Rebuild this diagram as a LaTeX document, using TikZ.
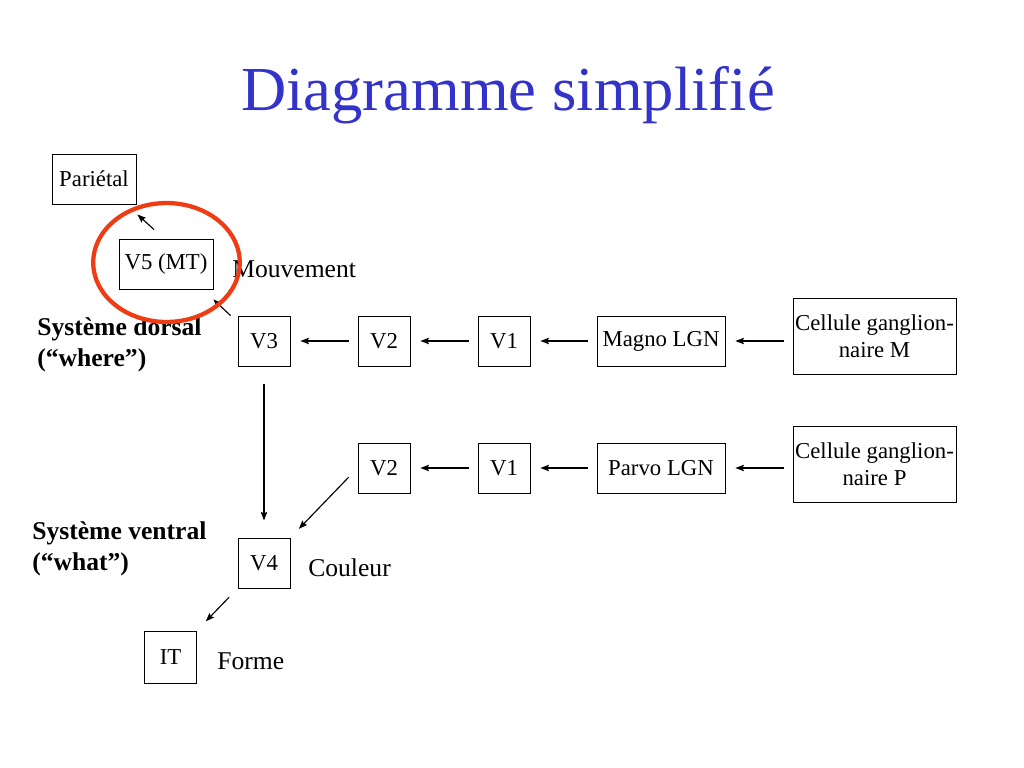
\documentclass[tikz,border=0pt]{standalone}
\usepackage{fontspec}
\setmainfont{Liberation Serif}
\usetikzlibrary{arrows.meta}
\definecolor{titleblue}{RGB}{51,51,204}
\definecolor{markred}{RGB}{238,60,20}
\begin{document}
\begin{tikzpicture}[
			x=0.703pt, y=-0.703pt,
			area/.style={rectangle,draw,line width=0.6pt,inner sep=0pt,
				font=\fontsize{16}{19.2}\selectfont,minimum width=36.6pt,minimum height=35.2pt},
			wide/.style={area,minimum width=90pt},
			cellbox/.style={area,align=center,minimum width=114.6pt,minimum height=54pt},
			note/.style={anchor=west,inner sep=0pt,font=\fontsize{18}{21.6}\selectfont},
			system/.style={note,align=left,font=\fontsize{18}{21.6}\selectfont\bfseries},
			path/.style={-{Stealth[length=6pt,width=4.5pt,inset=1pt]},line width=0.8pt},
			hpath/.style={path,shorten <=6.3pt,shorten >=7pt}
		]
		\path[fill=white,use as bounding box] (0,0) rectangle (1024,768);
		% title
		\node[anchor=base,text=titleblue,font=\fontsize{44}{52}\selectfont] (title) at (508,110) {Diagramme simplifié};
		% dorsal pathway
		\node[area,minimum width=59pt] (par) at (94,179) {Pariétal};
		\node[area,minimum width=66pt] (v5) at (166,264) {V5 (MT)};
		\node[area] (v3) at (264,341) {V3};
		\node[area] (v2m) at (384,341) {V2};
		\node[area] (v1m) at (504,341) {V1};
		\node[wide] (magno) at (661,341) {Magno LGN};
		\node[cellbox] (cellm) at (874.5,336.5) {Cellule ganglion-\\naire M};
		% ventral pathway
		\node[area] (v2p) at (384,468) {V2};
		\node[area] (v1p) at (504,468) {V1};
		\node[wide] (parvo) at (661,468) {Parvo LGN};
		\node[cellbox] (cellp) at (874.5,464.5) {Cellule ganglion-\\naire P};
		\node[area] (v4) at (264,563) {V4};
		\node[area,minimum height=36.6pt] (it) at (170.5,657) {IT};
		% labels
		\node[note] (mouv) at (232,269) {Mouvement};
		\node[note] (coul) at (308,568) {Couleur};
		\node[note] (forme) at (217,661) {Forme};
		\node[system] (dorsal) at (37,345) {Système dorsal\\(“where”)};
		\node[system] (ventral) at (32,549) {Système ventral\\(“what”)};
		% connections
		\draw[hpath] (cellm.west |- magno.east) -- (magno.east);
		\draw[hpath] (magno.west) -- (v1m.east);
		\draw[hpath] (v1m.west) -- (v2m.east);
		\draw[hpath] (v2m.west) -- (v3.east);
		\draw[hpath] (cellp.west |- parvo.east) -- (parvo.east);
		\draw[hpath] (parvo.west) -- (v1p.east);
		\draw[hpath] (v1p.west) -- (v2p.east);
		\draw[path,shorten <=12pt,shorten >=12pt] (v3.south) -- (v4.north);
		\draw[path,shorten <=9pt,shorten >=8.5pt] (v2p.west) -- (v4.north east);
		\draw[path,shorten <=8.5pt,shorten >=9pt] (v4.south west) -- (it.north east);
		\draw[path] ([shift={(-7,0)}]v3.north west) -- ([shift={(0,10)}]v5.south east);
		\draw[path] ([shift={(-12,-9)}]v5.north) -- ([shift={(1,10)}]par.south east);
		% highlight
		\draw[markred,line width=3pt] ([shift={(0.5,-1.5)}]v5.center) ellipse [x radius=51.5pt,y radius=41.8pt];
	\end{tikzpicture}
\end{document}
